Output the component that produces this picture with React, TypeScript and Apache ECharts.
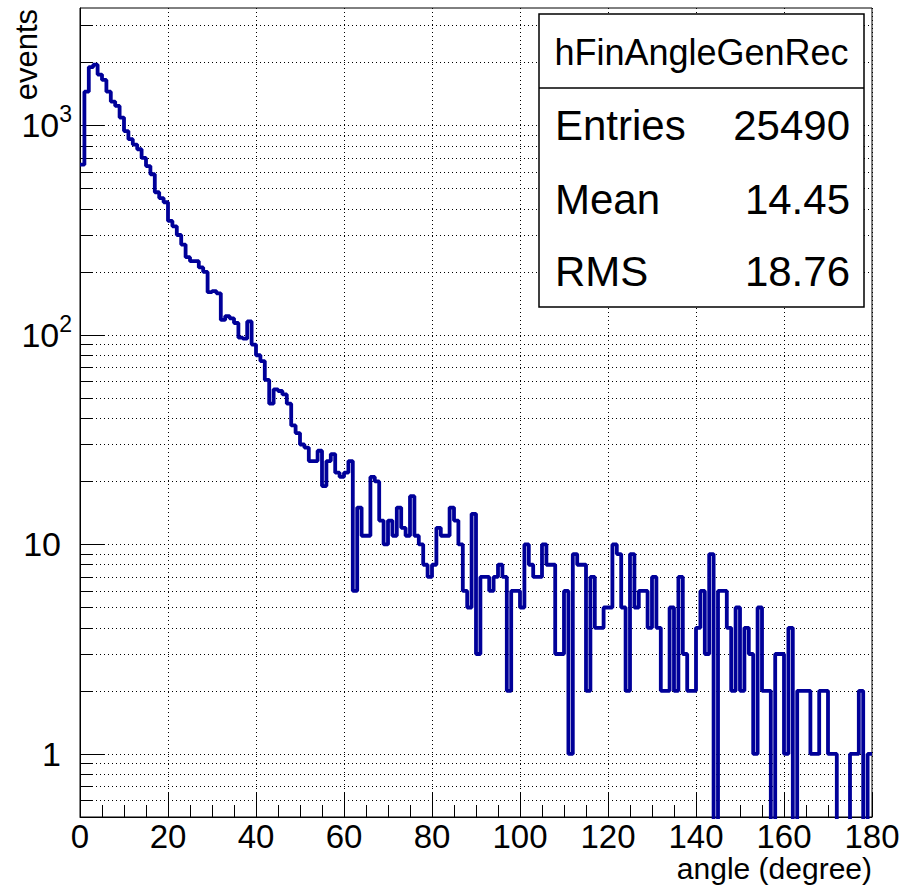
import React, { useEffect, useRef } from "react";
import * as echarts from "echarts";

// Histogram hFinAngleGenRec: 180 bins of 1 degree from 0 to 180 (counts per bin)
const binCounts: number[] = [
  650, 1450, 1900, 1950, 1750, 1650, 1450, 1300, 1240, 1090,
  940, 860, 810, 770, 700, 640, 585, 480, 450, 430,
  350, 330, 300, 270, 235, 225, 225, 210, 200, 160,
  162, 158, 118, 123, 120, 114, 97, 96, 116, 90,
  80, 75, 61, 47, 55, 54, 52, 47, 37, 34,
  30, 29, 25, 25, 28, 19, 25, 27, 22, 21,
  22, 25, 6, 15, 11, 11, 21, 20, 13, 10,
  13, 11, 15, 12, 11, 17, 11, 10, 8, 7,
  8, 12, 11, 11, 15, 13, 10, 6, 5, 14,
  3, 7, 7, 6, 7, 8, 7, 2, 6, 6,
  5, 10, 8, 7, 7, 10, 8, 8, 3, 3,
  6, 1, 9, 8, 8, 2, 7, 4, 4, 5,
  5, 10, 9, 5, 2, 9, 5, 6, 6, 4,
  7, 4, 2, 2, 5, 2, 7, 3, 2, 2,
  4, 6, 3, 9, 0, 6, 6, 4, 2, 5,
  2, 4, 3, 1, 5, 2, 2, 0, 3, 3,
  1, 4, 0, 2, 2, 2, 1, 1, 2, 2,
  1, 1, 0, 0, 0, 1, 1, 2, 0, 1,
];
const binWidth = 1;
const xMin = 0;
const xMax = 180;

const xTickLabels: number[] = [0, 20, 40, 60, 80, 100, 120, 140, 160, 180];
const yMajorTicks: number[] = [1, 10, 100, 1000];
const yMinorTicks: number[] = [
  0.6, 0.7, 0.8, 0.9,
  2, 3, 4, 5, 6, 7, 8, 9,
  20, 30, 40, 50, 60, 70, 80, 90,
  200, 300, 400, 500, 600, 700, 800, 900,
  2000, 3000,
];
const yMin = 0.5;
const yMax = 3636;

const statsTitle = "hFinAngleGenRec";
const statsRows: [string, string][] = [
  ["Entries", "25490"],
  ["Mean", "14.45"],
  ["RMS", "18.76"],
];
const xTitle = "angle (degree)";
const yTitle = "events";

const FONT = "'Liberation Sans', Arial, Helvetica, sans-serif";
const LINE_COLOR = "#000099";
const X_LABEL_SIZE = 33;
const Y_LABEL_SIZE = 34;

export default function App() {
  const ref = useRef<HTMLDivElement>(null);

  useEffect(() => {
    if (!ref.current) return;
    const chart = echarts.init(ref.current, null, { renderer: "svg" });

    // empty bins fall below the log-axis floor and get clipped at the frame
    const floorValue = yMin / 100;
    const pts: [number, number][] = binCounts.map((c, i) => [
      xMin + i * binWidth,
      c > 0 ? c : floorValue,
    ]);
    const last = binCounts[binCounts.length - 1];
    pts.push([xMax, last > 0 ? last : floorValue]);

    const allYTicks = [...yMinorTicks, ...yMajorTicks].sort((a, b) => a - b);

    const gridLine = {
      show: true,
      lineStyle: { color: "#000", width: 1, type: [1, 3] as number[] },
    };

    const boxX = 539;
    const boxY = 14;
    const boxW = 325;
    const boxH = 293;
    const divY = 88;
    const rowY = [125, 199, 271];

    const statsGraphics: any[] = [
      {
        type: "rect",
        shape: { x: boxX, y: boxY, width: boxW, height: boxH },
        style: { fill: "#fff", stroke: "#000", lineWidth: 1.5 },
        z: 100,
      },
      {
        type: "line",
        shape: { x1: boxX, y1: divY, x2: boxX + boxW, y2: divY },
        style: { stroke: "#000", lineWidth: 1.5 },
        z: 101,
      },
      {
        type: "text",
        x: boxX + boxW / 2,
        y: (boxY + divY) / 2 + 1,
        style: {
          text: statsTitle,
          font: `36px ${FONT}`,
          fill: "#000",
          align: "center",
          verticalAlign: "middle",
        },
        z: 101,
      },
    ];
    statsRows.forEach(([k, v], i) => {
      const cy = rowY[i];
      statsGraphics.push({
        type: "text",
        x: boxX + 16,
        y: cy,
        style: { text: k, font: `42px ${FONT}`, fill: "#000", align: "left", verticalAlign: "middle" },
        z: 101,
      });
      statsGraphics.push({
        type: "text",
        x: boxX + boxW - 14,
        y: cy,
        style: { text: v, font: `42px ${FONT}`, fill: "#000", align: "right", verticalAlign: "middle" },
        z: 101,
      });
    });

    chart.setOption({
      animation: false,
      backgroundColor: "#fff",
      textStyle: { fontFamily: FONT },
      grid: {
        left: 80,
        right: 32,
        top: 8,
        bottom: 72,
        show: true,
        borderColor: "#000",
        borderWidth: 1,
        backgroundColor: "transparent",
      },
      xAxis: [
        {
          type: "value",
          min: xMin,
          max: xMax,
          interval: 20,
          position: "bottom",
          axisLine: { show: true, onZero: false, lineStyle: { color: "#000", width: 1 } },
          axisTick: { show: true, inside: true, length: 24, lineStyle: { color: "#000", width: 1 } },
          minorTick: { show: true, splitNumber: 4, length: 12, lineStyle: { color: "#000", width: 1 } },
          splitLine: gridLine,
          axisLabel: {
            show: true,
            color: "#000",
            fontSize: X_LABEL_SIZE,
            fontFamily: FONT,
            margin: 3,
            customValues: xTickLabels,
          },
        },
      ],
      yAxis: [
        {
          type: "log",
          logBase: 10,
          min: yMin,
          max: yMax,
          position: "left",
          axisLine: { show: true, onZero: false, lineStyle: { color: "#000", width: 1 } },
          axisTick: {
            show: true,
            inside: true,
            length: 12,
            customValues: allYTicks,
            lineStyle: { color: "#000", width: 1 },
          },
          splitLine: gridLine,
          axisLabel: { show: false },
        },
        {
          type: "log",
          logBase: 10,
          min: yMin,
          max: yMax,
          position: "left",
          axisLine: { show: false },
          axisTick: {
            show: true,
            inside: true,
            length: 24,
            customValues: yMajorTicks,
            lineStyle: { color: "#000", width: 1 },
          },
          splitLine: { show: false },
          axisLabel: {
            show: true,
            color: "#000",
            fontFamily: FONT,
            fontSize: Y_LABEL_SIZE,
            margin: 8,
            customValues: yMajorTicks,
            formatter: (v: number) => {
              const e = Math.round(Math.log10(v));
              if (e >= 2) return `{b|10}{s|${e}}`;
              return `{b|${Math.round(v)}}{g| }`;
            },
            rich: {
              b: { fontSize: Y_LABEL_SIZE, fontFamily: FONT, color: "#000" },
              s: { fontSize: 23, fontFamily: FONT, color: "#000", padding: [0, 0, 22, 0] },
              g: { fontSize: 23, width: 11 },
            },
          },
        },
      ],
      series: [
        {
          type: "line",
          xAxisIndex: 0,
          yAxisIndex: 0,
          step: "end",
          data: pts,
          showSymbol: false,
          symbol: "none",
          clip: true,
          lineStyle: { color: LINE_COLOR, width: 3.8 },
          z: 5,
        },
      ],
      graphic: [
        {
          type: "text",
          x: 26,
          y: 9,
          rotation: Math.PI / 2,
          style: {
            text: yTitle,
            font: `31px ${FONT}`,
            fill: "#000",
            align: "right",
            verticalAlign: "middle",
          },
          z: 101,
        },
        {
          type: "text",
          x: 872,
          y: 868,
          style: {
            text: xTitle,
            font: `30px ${FONT}`,
            fill: "#000",
            align: "right",
            verticalAlign: "middle",
          },
          z: 101,
        },
        ...statsGraphics,
      ],
    });

    return () => chart.dispose();
  }, []);

  return (
    <div
      ref={ref}
      style={{ position: "absolute", left: 0, top: 0, width: 904, height: 889, background: "#fff" }}
    />
  );
}
